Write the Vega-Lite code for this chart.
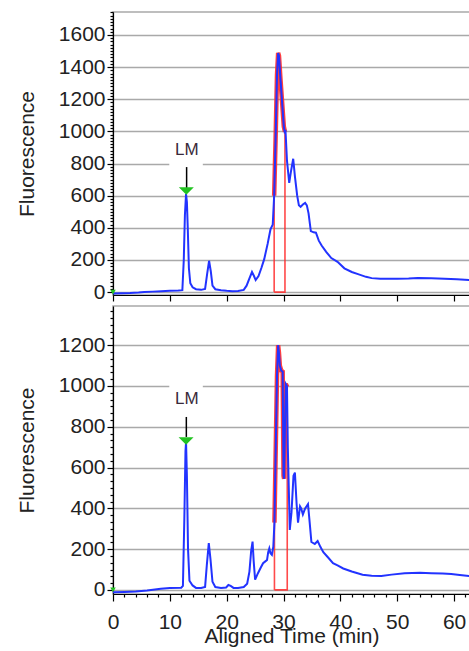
{
  "$schema": "https://vega.github.io/schema/vega-lite/v6.json",
  "padding": {"left": 15, "top": 10, "right": 0, "bottom": 0},
  "autosize": {"type": "pad"},
  "spacing": 2,
  "config": {
    "font": "Liberation Sans",
    "view": {"stroke": "#a9a9a9", "strokeWidth": 1.5},
    "axis": {
      "domainColor": "#000000", "domainWidth": 1.2,
      "tickColor": "#000000", "tickWidth": 1.2,
      "gridColor": "#a9a9a9", "gridWidth": 1.5,
      "labelFont": "Liberation Sans", "labelFontSize": 21, "labelColor": "#222222",
      "titleFont": "Liberation Sans", "titleFontSize": 21, "titleFontWeight": "normal", "titleColor": "#222222",
      "labelOverlap": false, "labelFlush": false, "tickCount": 500
    }
  },
  "datasets": {
    "topTrace": [
      {"t":0,"f":-8},{"t":1.5,"f":-7},{"t":3,"f":-6},{"t":4.5,"f":-3},{"t":5.5,"f":0},{"t":7,"f":3},{"t":8.5,"f":6},{"t":10,"f":8},{"t":11.5,"f":10},{"t":12.2,"f":12},{"t":12.45,"f":200},{"t":12.65,"f":480},{"t":12.85,"f":610},{"t":13.0,"f":560},{"t":13.15,"f":400},{"t":13.35,"f":150},{"t":13.6,"f":55},{"t":14.0,"f":30},{"t":14.6,"f":18},{"t":15.5,"f":14},{"t":16.2,"f":20},{"t":16.55,"f":110},{"t":16.9,"f":195},{"t":17.2,"f":130},{"t":17.5,"f":40},{"t":18.0,"f":18},{"t":19,"f":12},{"t":20,"f":8},{"t":21,"f":6},{"t":22,"f":7},{"t":23,"f":14},{"t":23.5,"f":40},{"t":24.0,"f":85},{"t":24.45,"f":125},{"t":24.8,"f":100},{"t":25.1,"f":75},{"t":25.6,"f":100},{"t":26.1,"f":150},{"t":26.6,"f":205},{"t":27.2,"f":300},{"t":27.7,"f":390},{"t":28.1,"f":420},{"t":28.35,"f":600},{"t":28.6,"f":950},{"t":28.85,"f":1350},{"t":29.05,"f":1488},{"t":29.2,"f":1470},{"t":29.45,"f":1330},{"t":29.75,"f":1180},{"t":30.05,"f":1030},{"t":30.2,"f":996},{"t":30.35,"f":1000},{"t":30.6,"f":820},{"t":31.0,"f":680},{"t":31.3,"f":750},{"t":31.7,"f":830},{"t":32.0,"f":720},{"t":32.4,"f":600},{"t":32.7,"f":540},{"t":33.0,"f":530},{"t":33.4,"f":545},{"t":33.8,"f":555},{"t":34.1,"f":540},{"t":34.4,"f":490},{"t":34.8,"f":380},{"t":35.3,"f":372},{"t":35.7,"f":370},{"t":36.2,"f":320},{"t":36.7,"f":290},{"t":37.5,"f":250},{"t":38.4,"f":212},{"t":39.5,"f":188},{"t":40.7,"f":148},{"t":42,"f":125},{"t":43.1,"f":112},{"t":44.5,"f":95},{"t":45.5,"f":87},{"t":47,"f":83},{"t":50,"f":83},{"t":52,"f":85},{"t":53.6,"f":88},{"t":56,"f":86},{"t":58.3,"f":83},{"t":60.5,"f":80},{"t":62.8,"f":75}
    ],
    "topPeak": [
      {"o":0,"t":28.35,"f":0},{"o":1,"t":28.35,"f":600},{"o":2,"t":28.6,"f":950},{"o":3,"t":28.85,"f":1350},{"o":4,"t":29.05,"f":1488},{"o":5,"t":29.2,"f":1470},{"o":6,"t":29.45,"f":1330},{"o":7,"t":29.75,"f":1180},{"o":8,"t":30.05,"f":1030},{"o":9,"t":30.25,"f":997},{"o":10,"t":30.25,"f":0},{"o":11,"t":28.35,"f":0}
    ],
    "topAnno": [
      {"kind":"mask","t":9.9,"t2":15.8,"f":780,"f2":950},
      {"kind":"stem","t":12.95,"f":645,"f2":778},
      {"kind":"marker","t":12.9,"f":629},
      {"kind":"label","t":13.0,"f":885,"text":"LM"},
      {"kind":"origin","t":0,"f":0}
    ],
    "botTrace": [
      {"t":0,"f":-12},{"t":2,"f":-10},{"t":4,"f":-8},{"t":6,"f":-3},{"t":8.4,"f":6},{"t":10,"f":9},{"t":12,"f":11},{"t":12.3,"f":20},{"t":12.55,"f":350},{"t":12.75,"f":680},{"t":12.85,"f":725},{"t":13.0,"f":560},{"t":13.2,"f":200},{"t":13.45,"f":45},{"t":14,"f":22},{"t":14.6,"f":10},{"t":15.5,"f":10},{"t":16.2,"f":15},{"t":16.5,"f":120},{"t":16.85,"f":229},{"t":17.15,"f":150},{"t":17.5,"f":40},{"t":18,"f":14},{"t":19,"f":10},{"t":19.9,"f":12},{"t":20.3,"f":24},{"t":20.7,"f":20},{"t":21.2,"f":10},{"t":22,"f":10},{"t":23.0,"f":14},{"t":23.6,"f":30},{"t":24.0,"f":90},{"t":24.3,"f":190},{"t":24.55,"f":237},{"t":24.75,"f":140},{"t":25.0,"f":50},{"t":25.5,"f":82},{"t":26.0,"f":110},{"t":26.4,"f":131},{"t":26.8,"f":140},{"t":27.1,"f":147},{"t":27.3,"f":185},{"t":27.5,"f":204},{"t":27.7,"f":180},{"t":27.95,"f":172},{"t":28.2,"f":212},{"t":28.4,"f":330},{"t":28.6,"f":650},{"t":28.85,"f":1050},{"t":29.05,"f":1200},{"t":29.2,"f":1160},{"t":29.35,"f":1100},{"t":29.6,"f":1075},{"t":29.85,"f":1070},{"t":30.0,"f":560},{"t":30.1,"f":545},{"t":30.25,"f":800},{"t":30.4,"f":1010},{"t":30.6,"f":1000},{"t":30.75,"f":700},{"t":31.1,"f":294},{"t":31.4,"f":380},{"t":31.75,"f":560},{"t":32.0,"f":575},{"t":32.3,"f":420},{"t":32.55,"f":330},{"t":32.9,"f":410},{"t":33.1,"f":400},{"t":33.4,"f":370},{"t":33.8,"f":400},{"t":34.3,"f":421},{"t":34.6,"f":330},{"t":34.9,"f":235},{"t":35.5,"f":225},{"t":36.0,"f":240},{"t":36.5,"f":210},{"t":37.0,"f":185},{"t":37.8,"f":160},{"t":38.7,"f":131},{"t":39.5,"f":120},{"t":40.5,"f":105},{"t":42,"f":90},{"t":43.9,"f":74},{"t":45.5,"f":70},{"t":47.2,"f":68},{"t":49,"f":75},{"t":51.3,"f":82},{"t":54,"f":84},{"t":56,"f":82},{"t":58,"f":80},{"t":59.5,"f":78},{"t":61,"f":73},{"t":62.8,"f":68}
    ],
    "botPeak": [
      {"o":0,"t":28.4,"f":0},{"o":1,"t":28.4,"f":330},{"o":2,"t":28.6,"f":650},{"o":3,"t":28.85,"f":1050},{"o":4,"t":29.05,"f":1200},{"o":5,"t":29.2,"f":1160},{"o":6,"t":29.35,"f":1100},{"o":7,"t":29.6,"f":1075},{"o":8,"t":29.85,"f":1070},{"o":9,"t":30.0,"f":560},{"o":10,"t":30.1,"f":545},{"o":11,"t":30.25,"f":800},{"o":12,"t":30.4,"f":1010},{"o":13,"t":30.65,"f":995},{"o":14,"t":30.65,"f":0},{"o":15,"t":28.4,"f":0}
    ],
    "botAnno": [
      {"kind":"mask","t":9.9,"t2":15.8,"f":870,"f2":1010},
      {"kind":"stem","t":12.9,"f":750,"f2":848},
      {"kind":"marker","t":12.85,"f":730},
      {"kind":"label","t":13.0,"f":935,"text":"LM"},
      {"kind":"origin","t":0,"f":0}
    ]
  },
  "vconcat": [
    {
      "width": 357,
      "height": 283,
      "layer": [
        {
          "data": {"name": "topAnno"},
          "transform": [{"filter": "datum.kind === 'mask'"}],
          "mark": {"type": "rect", "color": "#ffffff"},
          "encoding": {
            "x": {"field": "t", "type": "quantitative", "scale": {"domain": [0, 62.8], "nice": false, "zero": false},
              "axis": {"title": null, "labels": false, "grid": false, "values": [0,10,20,30,40,50,60], "tickSize": 6}},
            "x2": {"field": "t2"},
            "y": {"field": "f", "type": "quantitative", "scale": {"domain": [-18, 1743], "nice": false, "zero": false},
              "axis": {
                "title": "Fluorescence", "titlePadding": 21, "format": "d", "labelPadding": 2,
                "values": [0,20,40,60,80,100,120,140,160,180,200,220,240,260,280,300,320,340,360,380,400,420,440,460,480,500,520,540,560,580,600,620,640,660,680,700,720,740,760,780,800,820,840,860,880,900,920,940,960,980,1000,1020,1040,1060,1080,1100,1120,1140,1160,1180,1200,1220,1240,1260,1280,1300,1320,1340,1360,1380,1400,1420,1440,1460,1480,1500,1520,1540,1560,1580,1600,1620,1640,1660,1680,1700,1720,1740],
                "labelExpr": "datum.value % 200 === 0 ? datum.label : ''",
                "labelFontSize": {"condition": {"test": "datum.value % 200 === 0", "value": 21}, "value": 1},
                "tickSize": {"condition": {"test": "datum.value % 200 === 0", "value": 6}, "value": 3},
                "gridOpacity": {"condition": {"test": "datum.value % 200 === 0", "value": 1}, "value": 0}
              }},
            "y2": {"field": "f2"}
          }
        },
        {
          "data": {"name": "topPeak"},
          "mark": {"type": "line", "color": "#ff2a2a", "strokeWidth": 1.6, "opacity": 0.85},
          "encoding": {
            "x": {"field": "t", "type": "quantitative"},
            "y": {"field": "f", "type": "quantitative"},
            "order": {"field": "o", "type": "quantitative"}
          }
        },
        {
          "data": {"name": "topPeak"},
          "transform": [{"filter": "datum.o >= 1 && datum.o <= 9"}],
          "mark": {"type": "line", "color": "#ff2a2a", "strokeWidth": 4.5, "opacity": 0.9},
          "encoding": {
            "x": {"field": "t", "type": "quantitative"},
            "y": {"field": "f", "type": "quantitative"},
            "order": {"field": "o", "type": "quantitative"}
          }
        },
        {
          "data": {"name": "topTrace"},
          "mark": {"type": "line", "color": "#2233ff", "strokeWidth": 2},
          "encoding": {
            "x": {"field": "t", "type": "quantitative"},
            "y": {"field": "f", "type": "quantitative"}
          }
        },
        {
          "data": {"name": "topAnno"},
          "transform": [{"filter": "datum.kind === 'stem'"}],
          "mark": {"type": "rule", "color": "#000000", "strokeWidth": 1.5},
          "encoding": {
            "x": {"field": "t", "type": "quantitative"},
            "y": {"field": "f", "type": "quantitative"},
            "y2": {"field": "f2"}
          }
        },
        {
          "data": {"name": "topAnno"},
          "transform": [{"filter": "datum.kind === 'label'"}],
          "mark": {"type": "text", "color": "#3a2a3a", "fontSize": 17, "font": "Liberation Sans", "align": "center", "baseline": "middle"},
          "encoding": {
            "x": {"field": "t", "type": "quantitative"},
            "y": {"field": "f", "type": "quantitative"},
            "text": {"field": "text"}
          }
        },
        {
          "data": {"name": "topAnno"},
          "transform": [{"filter": "datum.kind === 'marker'"}],
          "mark": {"type": "point", "shape": "M-1,-0.5L1,-0.5L0,0.5Z", "filled": true, "color": "#22c322", "size": 225, "opacity": 1},
          "encoding": {
            "x": {"field": "t", "type": "quantitative"},
            "y": {"field": "f", "type": "quantitative"}
          }
        },
        {
          "data": {"name": "topAnno"},
          "transform": [{"filter": "datum.kind === 'origin'"}],
          "mark": {"type": "point", "shape": "triangle-down", "filled": true, "color": "#22c322", "size": 30, "opacity": 1},
          "encoding": {
            "x": {"field": "t", "type": "quantitative"},
            "y": {"field": "f", "type": "quantitative"}
          }
        }
      ]
    },
    {
      "width": 357,
      "height": 288,
      "layer": [
        {
          "data": {"name": "botAnno"},
          "transform": [{"filter": "datum.kind === 'mask'"}],
          "mark": {"type": "rect", "color": "#ffffff"},
          "encoding": {
            "x": {"field": "t", "type": "quantitative", "scale": {"domain": [0, 62.8], "nice": false, "zero": false},
              "axis": {
                "title": "Aligned Time (min)", "titlePadding": -7, "grid": false, "labelPadding": 10, "format": "d",
                "values": [0,2,4,6,8,10,12,14,16,18,20,22,24,26,28,30,32,34,36,38,40,42,44,46,48,50,52,54,56,58,60,62],
                "labelExpr": "datum.value % 10 === 0 ? datum.label : ''",
                "labelFontSize": {"condition": {"test": "datum.value % 10 === 0", "value": 21}, "value": 1},
                "tickSize": {"condition": {"test": "datum.value % 10 === 0", "value": 7}, "value": 3}
              }},
            "x2": {"field": "t2"},
            "y": {"field": "f", "type": "quantitative", "scale": {"domain": [-20, 1392], "nice": false, "zero": false},
              "axis": {
                "title": "Fluorescence", "titlePadding": 21, "format": "d", "labelPadding": 2,
                "values": [0,33.33,66.67,100,133.33,166.67,200,233.33,266.67,300,333.33,366.67,400,433.33,466.67,500,533.33,566.67,600,633.33,666.67,700,733.33,766.67,800,833.33,866.67,900,933.33,966.67,1000,1033.33,1066.67,1100,1133.33,1166.67,1200,1233.33,1266.67,1300,1333.33,1366.67],
                "labelExpr": "datum.value % 200 === 0 ? datum.label : ''",
                "labelFontSize": {"condition": {"test": "datum.value % 200 === 0", "value": 21}, "value": 1},
                "tickSize": {"condition": {"test": "datum.value % 200 === 0", "value": 6}, "value": 3},
                "gridOpacity": {"condition": {"test": "datum.value % 200 === 0", "value": 1}, "value": 0}
              }},
            "y2": {"field": "f2"}
          }
        },
        {
          "data": {"name": "botPeak"},
          "mark": {"type": "line", "color": "#ff2a2a", "strokeWidth": 1.6, "opacity": 0.85},
          "encoding": {
            "x": {"field": "t", "type": "quantitative"},
            "y": {"field": "f", "type": "quantitative"},
            "order": {"field": "o", "type": "quantitative"}
          }
        },
        {
          "data": {"name": "botPeak"},
          "transform": [{"filter": "datum.o >= 1 && datum.o <= 13"}],
          "mark": {"type": "line", "color": "#ff2a2a", "strokeWidth": 4.5, "opacity": 0.9},
          "encoding": {
            "x": {"field": "t", "type": "quantitative"},
            "y": {"field": "f", "type": "quantitative"},
            "order": {"field": "o", "type": "quantitative"}
          }
        },
        {
          "data": {"name": "botTrace"},
          "mark": {"type": "line", "color": "#2233ff", "strokeWidth": 2},
          "encoding": {
            "x": {"field": "t", "type": "quantitative"},
            "y": {"field": "f", "type": "quantitative"}
          }
        },
        {
          "data": {"name": "botAnno"},
          "transform": [{"filter": "datum.kind === 'stem'"}],
          "mark": {"type": "rule", "color": "#000000", "strokeWidth": 1.5},
          "encoding": {
            "x": {"field": "t", "type": "quantitative"},
            "y": {"field": "f", "type": "quantitative"},
            "y2": {"field": "f2"}
          }
        },
        {
          "data": {"name": "botAnno"},
          "transform": [{"filter": "datum.kind === 'label'"}],
          "mark": {"type": "text", "color": "#3a2a3a", "fontSize": 17, "font": "Liberation Sans", "align": "center", "baseline": "middle"},
          "encoding": {
            "x": {"field": "t", "type": "quantitative"},
            "y": {"field": "f", "type": "quantitative"},
            "text": {"field": "text"}
          }
        },
        {
          "data": {"name": "botAnno"},
          "transform": [{"filter": "datum.kind === 'marker'"}],
          "mark": {"type": "point", "shape": "M-1,-0.5L1,-0.5L0,0.5Z", "filled": true, "color": "#22c322", "size": 225, "opacity": 1},
          "encoding": {
            "x": {"field": "t", "type": "quantitative"},
            "y": {"field": "f", "type": "quantitative"}
          }
        },
        {
          "data": {"name": "botAnno"},
          "transform": [{"filter": "datum.kind === 'origin'"}],
          "mark": {"type": "point", "shape": "triangle-down", "filled": true, "color": "#22c322", "size": 30, "opacity": 1},
          "encoding": {
            "x": {"field": "t", "type": "quantitative"},
            "y": {"field": "f", "type": "quantitative"}
          }
        }
      ]
    }
  ]
}
